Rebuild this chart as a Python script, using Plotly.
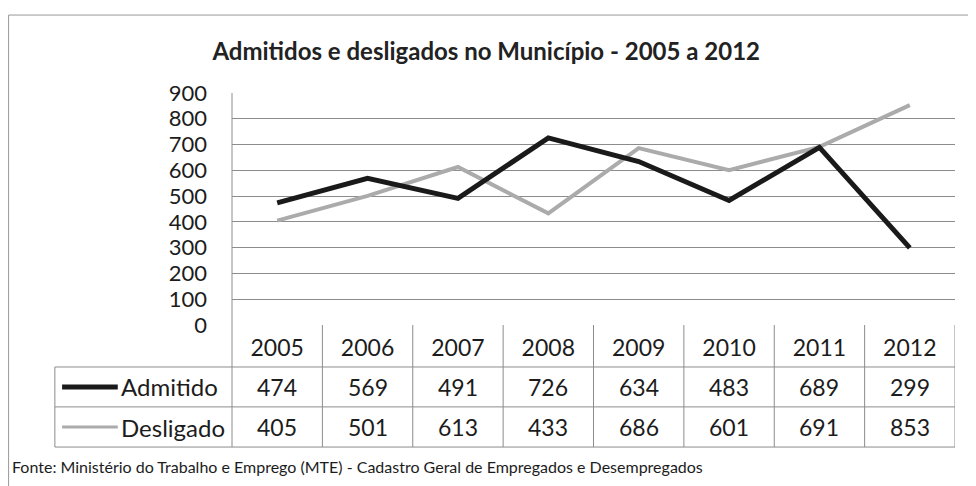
import plotly.graph_objects as go

anos = [2005, 2006, 2007, 2008, 2009, 2010, 2011, 2012]
admitido = [474, 569, 491, 726, 634, 483, 689, 299]
desligado = [405, 501, 613, 433, 686, 601, 691, 853]
y_ticks = [0, 100, 200, 300, 400, 500, 600, 700, 800, 900]

fonte = "Lato"
cor_texto = "#1c1c1c"
cor_grade = "#8c8c8c"

fig = go.Figure()

fig.add_trace(go.Scatter(x=anos, y=desligado, mode="lines", name="Desligado",
                         line=dict(color="#ababab", width=4)))
fig.add_trace(go.Scatter(x=anos, y=admitido, mode="lines", name="Admitido",
                         line=dict(color="#1a1a1a", width=5)))

# table rows (paper y of the row centres / separators)
linhas_tab = [0, -0.181, -0.353, -0.526]
centros = {"Admitido": -0.267, "Desligado": -0.440}
series = {"Admitido": admitido, "Desligado": desligado}

shapes = []
# horizontal table lines
for y in linhas_tab[1:]:
    shapes.append(dict(type="line", xref="x", yref="paper", x0=2004.5, x1=2012.5, y0=y, y1=y,
                       line=dict(color=cor_grade, width=1)))
    shapes.append(dict(type="line", xref="paper", yref="paper", x0=-0.245, x1=0, y0=y, y1=y,
                       line=dict(color=cor_grade, width=1)))
# vertical table lines
for a in anos:
    shapes.append(dict(type="line", xref="x", yref="paper", x0=a + 0.5, x1=a + 0.5,
                       y0=0, y1=linhas_tab[-1], line=dict(color=cor_grade, width=1)))
shapes.append(dict(type="line", xref="paper", yref="paper", x0=0, x1=0, y0=1, y1=linhas_tab[-1],
                   line=dict(color=cor_grade, width=1)))
shapes.append(dict(type="line", xref="paper", yref="paper", x0=-0.245, x1=-0.245,
                   y0=linhas_tab[1], y1=linhas_tab[-1], line=dict(color=cor_grade, width=1)))
# legend keys
shapes.append(dict(type="line", xref="paper", yref="paper", x0=-0.235, x1=-0.158,
                   y0=centros["Admitido"], y1=centros["Admitido"], line=dict(color="#1a1a1a", width=5)))
shapes.append(dict(type="line", xref="paper", yref="paper", x0=-0.235, x1=-0.158,
                   y0=centros["Desligado"], y1=centros["Desligado"], line=dict(color="#ababab", width=3)))
# outer frame
shapes.append(dict(type="line", xref="paper", yref="paper", x0=-0.309, x1=-0.309, y0=1.336, y1=-0.7,
                   line=dict(color="#999", width=1)))
shapes.append(dict(type="line", xref="paper", yref="paper", x0=-0.309, x1=1.03, y0=1.336, y1=1.336,
                   line=dict(color="#999", width=1)))

annotations = []
for nome, vals in series.items():
    annotations.append(dict(xref="paper", yref="paper", x=-0.156, y=centros[nome], text=nome,
                            showarrow=False, xanchor="left", yanchor="middle",
                            font=dict(family=fonte, size=24, color=cor_texto)))
    for a, v in zip(anos, vals):
        annotations.append(dict(xref="x", yref="paper", x=a, y=centros[nome], text=str(v),
                                showarrow=False, xanchor="center", yanchor="middle",
                                font=dict(family=fonte, size=23, color=cor_texto)))

annotations.append(dict(xref="paper", yref="paper", x=-0.307, y=-0.608,
                        text="Fonte: Ministério do Trabalho e Emprego (MTE) - Cadastro Geral de Empregados e Desempregados",
                        showarrow=False, xanchor="left", yanchor="middle",
                        font=dict(family=fonte, size=16, color=cor_texto)))

# the page body has an 8px margin, so the figure is shrunk by 8px
fig.update_layout(
    width=968, height=478,
    margin=dict(l=224, r=21, t=85, b=161),
    paper_bgcolor="white", plot_bgcolor="white",
    showlegend=False,
    title=dict(text="<b>Admitidos e desligados no Município - 2005 a 2012</b>",
               x=0.494, xanchor="center", y=0.908, yanchor="middle",
               font=dict(family=fonte, size=24, color="#222")),
    xaxis=dict(range=[2004.5, 2012.5], tickvals=anos, ticktext=[str(a) for a in anos],
               showgrid=False, zeroline=False, ticks="", ticklabelstandoff=7,
               tickfont=dict(family=fonte, size=23, color=cor_texto)),
    yaxis=dict(range=[0, 900], tickvals=y_ticks, showgrid=True, gridcolor=cor_grade, gridwidth=1,
               zeroline=False, ticks="", ticklabelstandoff=24,
               tickfont=dict(family=fonte, size=22, color=cor_texto)),
    shapes=shapes,
    annotations=annotations,
)

fig.write_html("out.html")
